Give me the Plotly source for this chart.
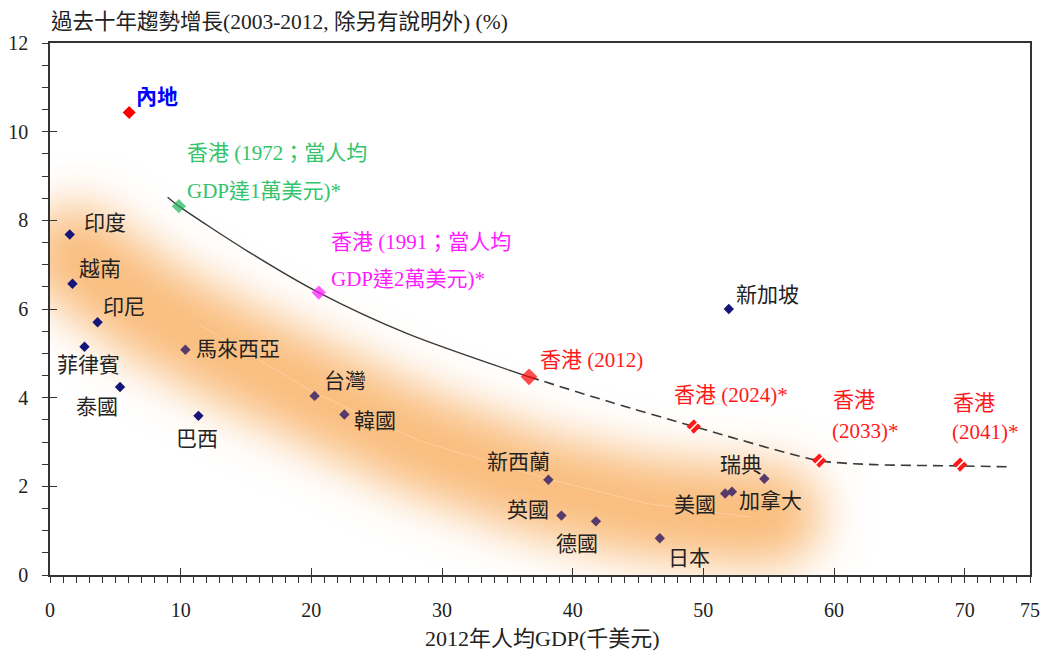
import base64
import plotly.graph_objects as go

# ---------------- data ----------------
mainland_name = ["內地"]
mainland_gdp = [6.06]
mainland_growth = [10.43]

dev_names = ["印度", "越南", "印尼", "菲律賓", "泰國", "巴西", "新加坡"]
dev_gdp = [1.51, 1.72, 3.64, 2.64, 5.36, 11.36, 51.95]
dev_growth = [7.68, 6.57, 5.70, 5.15, 4.24, 3.59, 6.00]

adv_names = ["馬來西亞", "台灣", "韓國", "新西蘭", "英國", "德國", "日本", "美國", "加拿大", "瑞典"]
adv_gdp = [10.36, 20.25, 22.53, 38.14, 39.14, 41.78, 46.67, 51.67, 52.19, 54.67]
adv_growth = [5.08, 4.04, 3.62, 2.15, 1.34, 1.21, 0.83, 1.84, 1.88, 2.17]

hk_years = ["1972", "1991", "2012", "2024", "2033", "2041"]
hk_gdp = [9.86, 20.57, 36.66, 49.27, 58.87, 69.65]
hk_growth = [8.32, 6.37, 4.47, 3.35, 2.58, 2.49]
hk_label_lines = [
    ["香港 (1972；當人均", "GDP達1萬美元)*"],
    ["香港 (1991；當人均", "GDP達2萬美元)*"],
    ["香港 (2012)"],
    ["香港 (2024)*"],
    ["香港", "(2033)*"],
    ["香港", "(2041)*"],
]

trend_hist_gdp = [9.0, 9.86, 15.2, 20.57, 27.3, 36.66]
trend_hist_growth = [8.52, 8.32, 7.29, 6.37, 5.45, 4.47]
trend_proj_gdp = [36.66, 43.0, 49.27, 58.87, 63.1, 69.65, 73.5]
trend_proj_growth = [4.47, 3.89, 3.35, 2.58, 2.49, 2.46, 2.44]

x_tickvals = [0, 10, 20, 30, 40, 50, 60, 70, 75]
y_tickvals = [0, 2, 4, 6, 8, 10, 12]

title_text = "過去十年趨勢增長(2003-2012, 除另有說明外) (%)"
xtitle_text = "2012年人均GDP(千美元)"

# ---------------- styles ----------------
W, H = 1041, 651
ML, MR, MT, MB = 50, 11, 43, 76
PW, PH = W - ML - MR, H - MT - MB

LAT = "Liberation Serif"
FONT = "Liberation Serif, 'Noto Sans CJK TC', 'Noto Sans CJK SC', sans-serif"
TXT = "#222222"
NAVY = "#14147a"
PURPLE = "#563a6c"
RED = "#ff1a1a"
GREEN_T = "#33c36a"
GREEN_M = "#1fb45a"
MAGENTA = "#ff1aff"
hk_text_colors = [GREEN_T, MAGENTA, RED, RED, RED, RED]
hk_marker_colors = [GREEN_M, MAGENTA, "#ff0000"]

country_label_style = {
    "印度": (12, 12, "left"),
    "越南": (5, 15, "left"),
    "印尼": (3, 15, "left"),
    "菲律賓": (4, -18, "center"),
    "泰國": (0, -20, "right"),
    "巴西": (-1, -23, "center"),
    "新加坡": (5, 14, "left"),
    "馬來西亞": (9, 1, "left"),
    "台灣": (7, 15, "left"),
    "韓國": (8, -6, "left"),
    "新西蘭": (4, 18, "right"),
    "英國": (-10, 6, "right"),
    "德國": (-19, -23, "center"),
    "日本": (6, -20, "left"),
    "美國": (-7, -12, "right"),
    "加拿大": (5, -9, "left"),
    "瑞典": (0, 14, "right"),
}
hk_label_shifts = [
    [(6, 53), (6, 15)],
    [(10, 51), (10, 14)],
    [(9, 17)],
    [(-22, 31)],
    [(12, 61), (11, 30)],
    [(-9, 62), (-10, 33)],
]

# ---------------- glow band (decorative, plot-area pixel space) ----------------
glow_path = "M 25 212 L 100 267 L 180 310 L 260 348 L 370 400 L 490 442 L 590 464 L 690 472 L 722 472"
faint_path = "M 150 282 L 265 350 L 370 398 L 498 436 L 600 461 L 700 474"
svg = f'''<svg xmlns="http://www.w3.org/2000/svg" width="{PW}" height="{PH}" viewBox="0 0 {PW} {PH}">
<defs><filter id="b" filterUnits="userSpaceOnUse" x="-300" y="-300" width="{PW + 600}" height="{PH + 600}">
<feGaussianBlur stdDeviation="24"/></filter></defs>
<path d="{glow_path}" fill="none" stroke="#f9bd7e" stroke-width="100" stroke-linecap="round" stroke-linejoin="round" filter="url(#b)"/>
<path d="{faint_path}" fill="none" stroke="#fff4ec" stroke-opacity="0.3" stroke-width="1"/>
</svg>'''
svg_uri = "data:image/svg+xml;base64," + base64.b64encode(svg.encode("utf-8")).decode("ascii")

fig = go.Figure()

# trend lines
fig.add_trace(go.Scatter(x=trend_hist_gdp, y=trend_hist_growth, mode="lines",
                         line=dict(color="#3a3a3a", width=1.4, shape="spline", smoothing=0.8),
                         hoverinfo="skip", showlegend=False))
fig.add_trace(go.Scatter(x=trend_proj_gdp, y=trend_proj_growth, mode="lines",
                         line=dict(color="#3a3a3a", width=1.6, dash="10px,6px", shape="spline", smoothing=0.7),
                         hoverinfo="skip", showlegend=False))

# economies
fig.add_trace(go.Scatter(x=dev_gdp, y=dev_growth, mode="markers", text=dev_names,
                         marker=dict(symbol="diamond", size=8, color=NAVY, line=dict(width=0)),
                         showlegend=False))
fig.add_trace(go.Scatter(x=adv_gdp, y=adv_growth, mode="markers", text=adv_names,
                         marker=dict(symbol="diamond", size=8, color=PURPLE, line=dict(width=0)),
                         showlegend=False))
fig.add_trace(go.Scatter(x=mainland_gdp, y=mainland_growth, mode="markers", text=mainland_name,
                         marker=dict(symbol="diamond", size=10, color="#ff0000", line=dict(width=0)),
                         showlegend=False))

# Hong Kong
hist_sizes = [11, 11, 13]
fig.add_trace(go.Scatter(x=hk_gdp[:3], y=hk_growth[:3], mode="markers", text=hk_years[:3],
                         marker=dict(symbol="diamond", size=hist_sizes, color=hk_marker_colors, line=dict(width=0)),
                         showlegend=False))
fig.add_trace(go.Scatter(x=hk_gdp[3:], y=hk_growth[3:], mode="markers", text=hk_years[3:],
                         marker=dict(symbol="diamond", size=11, color="#ff1a1a", line=dict(width=0)),
                         showlegend=False))
fig.add_trace(go.Scatter(x=hk_gdp[3:], y=hk_growth[3:], mode="markers", hoverinfo="skip",
                         marker=dict(symbol="line-ne", size=9, color="white", line=dict(width=1.5, color="white")),
                         showlegend=False))

# dummy trace for overlay axes (inner major ticks)
fig.add_trace(go.Scatter(x=[None], y=[None], xaxis="x2", yaxis="y2", showlegend=False, hoverinfo="skip"))

annotations = []
for names, xs, ys in ((dev_names, dev_gdp, dev_growth), (adv_names, adv_gdp, adv_growth)):
    for n, xv, yv in zip(names, xs, ys):
        dx, dy, anc = country_label_style[n]
        annotations.append(dict(x=xv, y=yv, xref="x", yref="y", text=n, showarrow=False,
                                xanchor=anc, yanchor="middle", xshift=dx, yshift=dy,
                                font=dict(family=FONT, size=21, color=TXT)))
annotations.append(dict(x=mainland_gdp[0], y=mainland_growth[0], xref="x", yref="y",
                        text="<b>" + mainland_name[0] + "</b>", showarrow=False,
                        xanchor="left", yanchor="middle", xshift=5, yshift=16,
                        font=dict(family=FONT, size=21, color="#0000ff")))
for lines, shifts, col, xv, yv in zip(hk_label_lines, hk_label_shifts, hk_text_colors, hk_gdp, hk_growth):
    for ln, (dx, dy) in zip(lines, shifts):
        annotations.append(dict(x=xv, y=yv, xref="x", yref="y", text=ln, showarrow=False,
                                xanchor="left", yanchor="middle", xshift=dx, yshift=dy,
                                font=dict(family=FONT, size=21, color=col)))
annotations.append(dict(x=0, y=1, xref="paper", yref="paper", text=title_text, showarrow=False,
                        xanchor="left", yanchor="middle", xshift=-1, yshift=MT - 22,
                        font=dict(family=FONT, size=21.5, color=TXT)))
annotations.append(dict(x=(542 - ML) / PW, y=0, xref="paper", yref="paper", text=xtitle_text, showarrow=False,
                        xanchor="center", yanchor="middle", yshift=-(638 - (MT + PH)),
                        font=dict(family=FONT, size=22, color=TXT)))

axis_col = "#333333"
fig.update_layout(
    width=W, height=H,
    margin=dict(l=ML, r=MR, t=MT, b=MB, pad=0, autoexpand=False),
    paper_bgcolor="white", plot_bgcolor="white",
    showlegend=False,
    annotations=annotations,
    images=[dict(source=svg_uri, xref="x", yref="y", x=0, y=12, sizex=75, sizey=12,
                 xanchor="left", yanchor="top", sizing="stretch", layer="below", opacity=1)],
    xaxis=dict(range=[0, 75], tickmode="array", tickvals=x_tickvals, ticktext=[str(v) for v in x_tickvals],
               ticks="outside", ticklen=6, tickwidth=1.2, tickcolor=axis_col, automargin=False,
               minor=dict(tickmode="linear", tick0=0, dtick=1, ticks="outside", ticklen=6, tickwidth=1, tickcolor=axis_col),
               showline=True, linecolor=axis_col, linewidth=1.5, mirror=True,
               showgrid=False, zeroline=False, ticklabelstandoff=10,
               tickfont=dict(family=LAT, size=20, color=TXT), fixedrange=True),
    yaxis=dict(range=[0, 12], tickmode="array", tickvals=y_tickvals,
               ticks="outside", ticklen=6, tickwidth=1.2, tickcolor=axis_col, automargin=False,
               minor=dict(tickmode="linear", tick0=0, dtick=0.5, ticks="outside", ticklen=6, tickwidth=1, tickcolor=axis_col),
               showline=True, linecolor=axis_col, linewidth=1.5, mirror=True,
               showgrid=False, zeroline=False, ticklabelstandoff=10,
               tickfont=dict(family=LAT, size=20, color=TXT), fixedrange=True),
    xaxis2=dict(range=[0, 75], overlaying="x", anchor="y2", side="bottom", tickmode="array", automargin=False,
                tickvals=x_tickvals[:-1], ticks="inside", ticklen=7, tickwidth=1.2, tickcolor=axis_col,
                showticklabels=False, showline=False, showgrid=False, zeroline=False, fixedrange=True),
    yaxis2=dict(range=[0, 12], overlaying="y", anchor="x2", side="left", tickmode="array", automargin=False,
                tickvals=y_tickvals, ticks="inside", ticklen=7, tickwidth=1.2, tickcolor=axis_col,
                showticklabels=False, showline=False, showgrid=False, zeroline=False, fixedrange=True),
)

fig.write_html("out.html", config={"displayModeBar": False},
               post_script="document.body.style.margin='0px';")
